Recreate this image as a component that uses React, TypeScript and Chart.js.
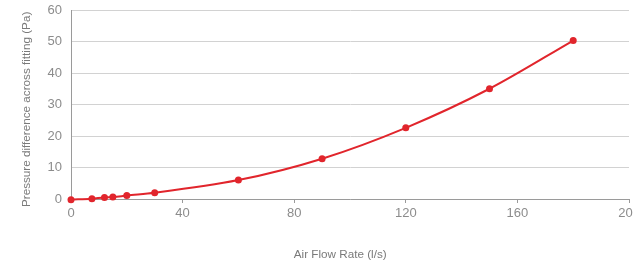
import React, { useEffect, useRef } from "react";
import { Chart, registerables } from "chart.js";

Chart.register(...registerables);

const flowRates = [0, 7.5, 12, 15, 20, 30, 60, 90, 120, 150, 180];
const pressures = [-0.2, 0.1, 0.5, 0.6, 1.1, 2.0, 6.0, 12.8, 22.6, 35.0, 50.3];
const xTitle = "Air Flow Rate (l/s)";
const yTitle = "Pressure difference across fitting (Pa)";

const RED = "#e1252c";
const TICK_COLOR = "#8c8c8c";
const FONT = "'Liberation Sans', Arial, sans-serif";

export default function App() {
  const ref = useRef<HTMLCanvasElement>(null);
  useEffect(() => {
    const canvas = ref.current!;
    const chart = new Chart(canvas, {
      type: "line",
      data: {
        datasets: [
          {
            data: flowRates.map((x, i) => ({ x, y: pressures[i] })),
            borderColor: RED,
            backgroundColor: RED,
            borderWidth: 2,
            pointRadius: 3.5,
            pointBorderWidth: 0,
            pointBackgroundColor: RED,
            tension: 0.4,
            cubicInterpolationMode: "monotone",
            clip: false as any,
          },
        ],
      },
      options: {
        responsive: false,
        animation: false,
        layout: { padding: { top: 10, right: 31, bottom: 0, left: 0 } },
        plugins: { legend: { display: false }, tooltip: { enabled: false } },
        scales: {
          x: {
            type: "linear",
            min: 0,
            max: 200,
            border: { color: "#9a9a9a", width: 1 },
            grid: { drawOnChartArea: false, drawTicks: true, tickLength: 4, color: "#9a9a9a" },
            ticks: { stepSize: 40, color: TICK_COLOR, font: { family: FONT, size: 13 }, padding: 3, maxRotation: 0 },
            title: { display: true, text: xTitle + "      ", color: "#7a7a7a", font: { family: FONT, size: 11.7 }, padding: { top: 0, bottom: 0 } },
            afterFit: (s: any) => { s.height = 63; },
          },
          y: {
            min: 0,
            max: 60,
            border: { color: "#9a9a9a", width: 1 },
            grid: { drawTicks: false, color: "#d2d2d2", lineWidth: 1 },
            ticks: { stepSize: 10, color: TICK_COLOR, font: { family: FONT, size: 13 }, padding: 9 },
            title: { display: true, text: yTitle + "   ", color: "#7a7a7a", font: { family: FONT, size: 11.7 }, padding: { top: 20, bottom: 0 } },
            afterFit: (s: any) => { s.width = 71; s.paddingTop = 0; },
          },
        },
      },
    });
    return () => chart.destroy();
  }, []);
  return (
    <div style={{ position: "fixed", left: 0, top: 0, width: 633, height: 262, overflow: "hidden", background: "#fff" }}>
      <canvas ref={ref} width={660} height={262} style={{ width: 660, height: 262, display: "block" }} />
    </div>
  );
}
